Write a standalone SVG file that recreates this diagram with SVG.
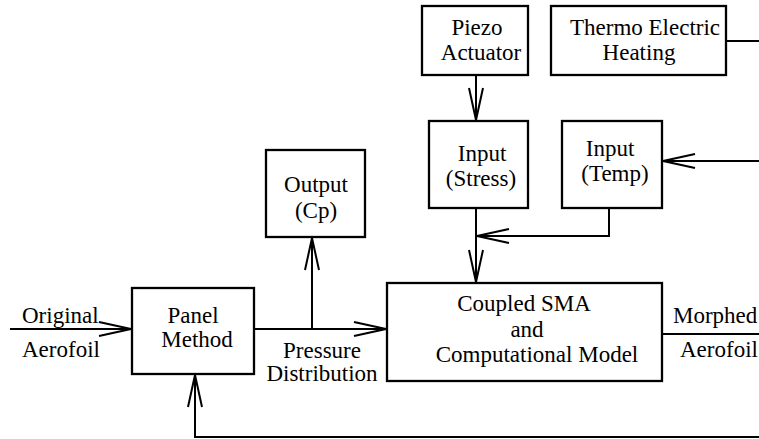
<svg xmlns="http://www.w3.org/2000/svg" width="759" height="439" viewBox="0 0 759 439">
<style>
.box{fill:#fff;stroke:#000;stroke-width:2.3}
.ln{fill:none;stroke:#000;stroke-width:2}
text{font-family:'Liberation Serif','Times New Roman',serif;font-size:23px;fill:#000}
.m{text-anchor:middle}
</style>
<defs>
<marker id="ah" markerUnits="userSpaceOnUse" markerWidth="40" markerHeight="20" viewBox="-34 -10 36 20" refX="0" refY="0" orient="auto">
<path d="M-32,-7 L0,0 L-32,7" fill="none" stroke="#000" stroke-width="2"/>
</marker>
</defs>
<g id="connectors">
<line class="ln" x1="10" y1="329" x2="131" y2="329" marker-end="url(#ah)"/>
<line class="ln" x1="254" y1="329" x2="386" y2="329" marker-end="url(#ah)"/>
<line class="ln" x1="312" y1="329" x2="312" y2="238" marker-end="url(#ah)"/>
<line class="ln" x1="476" y1="75" x2="476" y2="120" marker-end="url(#ah)"/>
<line class="ln" x1="759" y1="41" x2="726" y2="41"/>
<line class="ln" x1="759" y1="161" x2="663" y2="161" marker-end="url(#ah)"/>
<polyline class="ln" points="609,208 609,236 477,236" marker-end="url(#ah)"/>
<line class="ln" x1="476" y1="208" x2="476" y2="282" marker-end="url(#ah)"/>
<line class="ln" x1="662" y1="334" x2="759" y2="334"/>
<polyline class="ln" points="759,437 195,437 195,375" marker-end="url(#ah)"/>
</g>
<g id="panel">
<rect class="box" x="132" y="288" width="122" height="86"/>
<text class="m" x="193" y="323">Panel</text>
<text class="m" x="197" y="347">Method</text>
</g>
<g id="output">
<rect class="box" x="266" y="150" width="99" height="87"/>
<text class="m" x="316" y="192">Output</text>
<text class="m" x="316" y="218">(Cp)</text>
</g>
<g id="piezo">
<rect class="box" x="422" y="6" width="106" height="69"/>
<text class="m" x="477" y="35">Piezo</text>
<text class="m" x="481" y="60">Actuator</text>
</g>
<g id="thermo">
<rect class="box" x="551" y="6" width="175" height="69"/>
<text class="m" x="645" y="35">Thermo Electric</text>
<text class="m" x="639" y="60">Heating</text>
</g>
<g id="input-stress">
<rect class="box" x="429" y="121" width="99" height="87"/>
<text class="m" x="482" y="161">Input</text>
<text class="m" x="481" y="186">(Stress)</text>
</g>
<g id="input-temp">
<rect class="box" x="562" y="121" width="100" height="87"/>
<text class="m" x="610" y="156">Input</text>
<text class="m" x="615" y="181">(Temp)</text>
</g>
<g id="coupled">
<rect class="box" x="387" y="283" width="275" height="98"/>
<text class="m" x="524" y="311">Coupled SMA</text>
<text class="m" x="527" y="337">and</text>
<text class="m" x="537" y="362">Computational Model</text>
</g>
<g id="labels">
<text x="22" y="323">Original</text>
<text x="22" y="357">Aerofoil</text>
<text class="m" x="322" y="358">Pressure</text>
<text class="m" x="322" y="381">Distribution</text>
<text x="673" y="323">Morphed</text>
<text x="680" y="357">Aerofoil</text>
</g>
</svg>
